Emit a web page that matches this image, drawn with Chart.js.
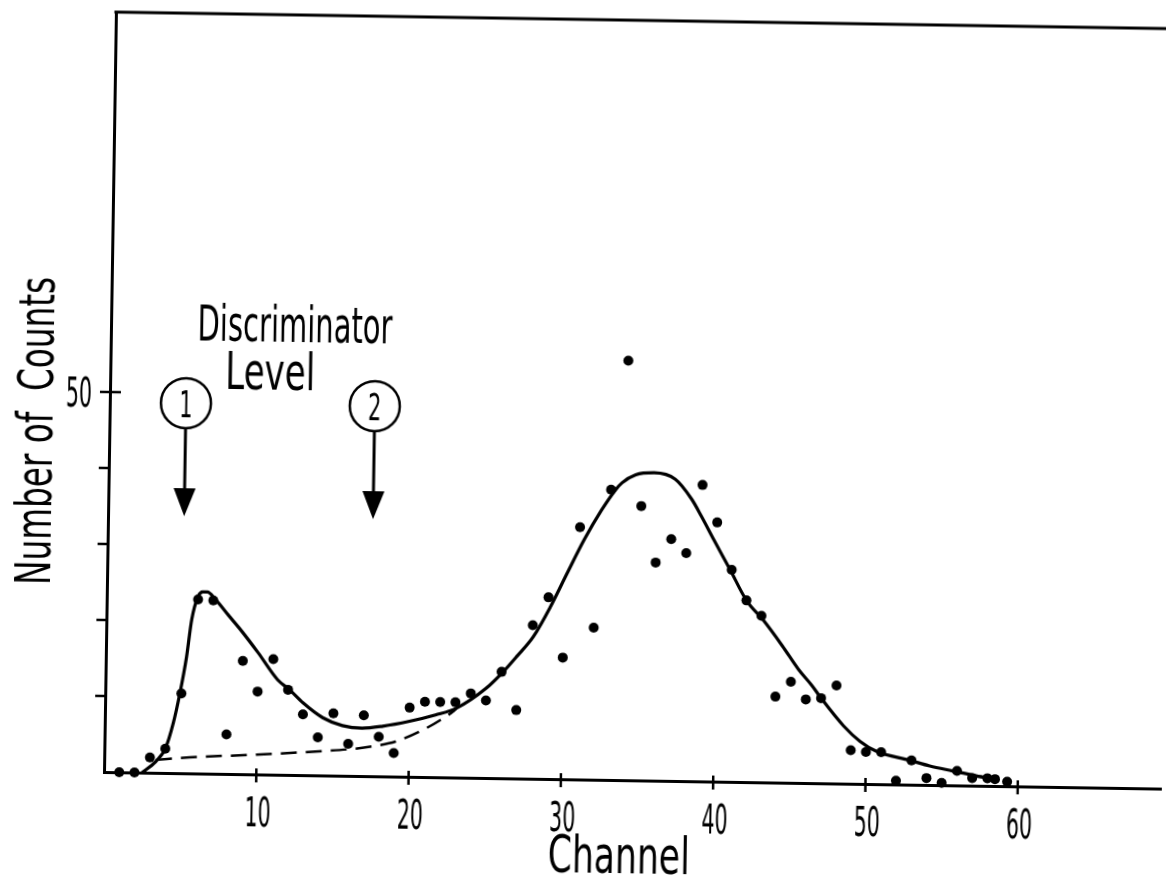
<!DOCTYPE html>
<html>
<head>
<meta charset="utf-8">
<title>Pulse height spectrum</title>
<script src="https://cdn.jsdelivr.net/npm/chart.js@4.4.1/dist/chart.umd.min.js"></script>
<style>
  html, body { margin: 0; padding: 0; background: #fff; overflow: hidden; }
  /* the plotted sheet sits slightly askew */
  #sheet { width: 1166px; height: 882px; transform: rotate(0.9deg); transform-origin: 104px 772px; }
</style>
</head>
<body>
<div id="sheet"><canvas id="spectrum" width="1166" height="882"></canvas></div>
<script>
// measured counts per channel
const channels = [1, 2, 3, 4, 5, 6, 7, 8, 9, 10, 11, 12, 13, 14, 15, 16, 17, 18, 19, 20,
  21, 22, 23, 24, 25, 26, 27, 28, 29, 30, 31, 32, 33, 34, 35, 36, 37, 38, 39, 40,
  41, 42, 43, 44, 45, 46, 47, 48, 49, 50, 51, 52, 53, 54, 55, 56, 57, 58, 58.5, 59.3];
const counts = [0, 0, 2.0, 3.2, 10.5, 22.9, 22.8, 5.2, 14.9, 10.9, 15.2, 11.2, 8.0, 5.0, 8.2, 4.2, 8.0, 5.2, 3.1, 9.1,
  9.9, 9.9, 9.9, 11.1, 10.2, 14.0, 9.0, 20.2, 23.9, 16.0, 33.2, 20.0, 38.2, 55.2, 36.1, 28.7, 31.8, 30.0, 39.0, 34.1,
  27.9, 23.9, 21.9, 11.3, 13.3, 11.0, 11.2, 12.9, 4.4, 4.2, 4.2, 0.5, 3.2, 0.9, 0.3, 1.9, 1.0, 1.0, 0.9, 0.6];

// smooth curve drawn through the spectrum
const fitChannels = [2.5, 3.4, 4.0, 4.5, 4.9, 5.3, 5.6, 6.0, 6.3, 6.6, 7.15, 8.0, 8.9, 10.0, 11.3, 12.1, 13.0,
  14.3, 15.6, 16.9, 18.25, 20.0, 21.7, 23.05, 25.0, 26.1, 27.0, 28.05, 29.15, 30.2, 31.3, 32.4, 33.3, 33.7,
  34.6, 35.8, 37.2, 38.3, 38.95, 39.8, 40.9, 42.0, 43.1, 44.4, 45.5, 46.4, 47.0, 48.5, 49.6, 50.7, 52.9,
  54.2, 55.7, 57.25, 58.45];
const fitCounts = [0, 1.5, 3.2, 6.6, 10.5, 15.3, 20.2, 23.3, 23.9, 23.9, 22.9, 20.9, 18.8, 16.0, 12.5, 11.2, 9.5,
  7.6, 6.6, 6.3, 6.6, 7.3, 8.2, 9.1, 11.8, 14.0, 16.1, 18.7, 22.7, 27.1, 31.6, 35.5, 38.2, 39.1,
  40.2, 40.5, 39.7, 37.1, 34.9, 31.8, 27.9, 23.9, 21.4, 18.0, 14.9, 12.8, 11.2, 7.6, 5.6, 4.3, 3.2,
  2.5, 1.9, 1.3, 0.9];

// dashed background under the first peak
const bgChannels = [3.4, 5.6, 10.0, 14.3, 16.5, 17.8, 19.1, 20.9, 22.6, 23.05];
const bgCounts = [1.7, 2.1, 2.6, 3.2, 3.6, 4.0, 4.6, 6.2, 8.3, 9.0];

const xTicks = [10, 20, 30, 40, 50, 60];
const xTickLabels = ['10', '20', '30', '40', '50', '60'];
const yTicks = [10, 20, 30, 40, 50];
const yTickLabels = ['', '', '', '', '50'];

// discriminator settings (channel) and their marks
const discLevels = [5.0, 17.4];
const discLabels = ['1', '2'];

const FONT = '"DejaVu Sans", "Liberation Sans", sans-serif';

// narrow lettering: scale a regular face horizontally
function squeezed(ctx, text, x, y, cap, sx, angle) {
  ctx.save();
  ctx.translate(x, y);
  if (angle) ctx.rotate(angle);
  ctx.font = Math.round(cap / 0.73) + 'px ' + FONT;
  if (sx < 0) sx = -sx / ctx.measureText(text).width; // negative = target width
  ctx.scale(sx, 1);
  ctx.textAlign = 'center';
  ctx.textBaseline = 'alphabetic';
  ctx.fillStyle = '#000';
  ctx.fillText(text, 0, 0);
  ctx.restore();
}

function seg(ctx, x1, y1, x2, y2) {
  ctx.beginPath();
  ctx.moveTo(x1, y1);
  ctx.lineTo(x2, y2);
  ctx.stroke();
}

const sheetPlugin = {
  id: 'sheet',
  afterDraw(chart) {
    const { ctx, chartArea: a, scales: { x, y } } = chart;
    ctx.save();
    ctx.strokeStyle = '#000';
    ctx.fillStyle = '#000';

    // top edge of the frame
    ctx.lineWidth = 3;
    seg(ctx, a.left - 1.5, a.top, a.right, a.top);

    // channel ticks cross the axis
    ctx.lineWidth = 2.5;
    xTicks.forEach((v, i) => {
      const px = x.getPixelForValue(v);
      seg(ctx, px, a.bottom - 6, px, a.bottom + 8);
      squeezed(ctx, xTickLabels[i], px + 2, a.bottom + 52, 30, 0.5);
    });

    // count ticks, the labelled one crosses the axis
    yTicks.forEach((v, i) => {
      const py = y.getPixelForValue(v);
      seg(ctx, a.left - 10, py, yTickLabels[i] ? a.left + 11 : a.left, py);
      if (yTickLabels[i]) squeezed(ctx, yTickLabels[i], a.left - 31, py + 15, 30, 0.5);
    });

    // axis titles
    squeezed(ctx, 'Channel', 620, a.bottom + 93, 38, -142);
    squeezed(ctx, 'Number of  Counts', 47, 432, 36, -308, -Math.PI / 2);

    // discriminator markers
    squeezed(ctx, 'Discriminator', 288, 339, 36, -195);
    squeezed(ctx, 'Level', 264, 386.5, 37, -90);
    discLevels.forEach((lvl, i) => {
      const cx = x.getPixelForValue(lvl);
      const cy = y.getPixelForValue(48.7);
      const tip = y.getPixelForValue(33.8);
      ctx.lineWidth = 2.5;
      ctx.beginPath();
      ctx.arc(cx, cy, 25, 0, Math.PI * 2);
      ctx.stroke();
      squeezed(ctx, discLabels[i], cx, cy + 14, 28, 0.55);
      ctx.lineWidth = 3;
      seg(ctx, cx, cy + 25, cx, tip - 20);
      ctx.beginPath();
      ctx.moveTo(cx - 11, tip - 28);
      ctx.lineTo(cx + 11, tip - 28);
      ctx.lineTo(cx, tip);
      ctx.closePath();
      ctx.fill();
    });
    ctx.restore();
  }
};

const toPoints = (xs, ys) => xs.map((v, i) => ({ x: v, y: ys[i] }));

new Chart(document.getElementById('spectrum'), {
  type: 'scatter',
  data: {
    datasets: [
      {
        label: 'Counts',
        data: toPoints(channels, counts),
        pointRadius: 5,
        pointBackgroundColor: '#000',
        pointBorderColor: '#000',
        pointBorderWidth: 0,
        showLine: false,
        clip: false
      },
      {
        label: 'Spectrum',
        data: toPoints(fitChannels, fitCounts),
        showLine: true,
        borderColor: '#000',
        borderWidth: 3.2,
        pointRadius: 0,
        cubicInterpolationMode: 'monotone',
        clip: false
      },
      {
        label: 'Background',
        data: toPoints(bgChannels, bgCounts),
        showLine: true,
        borderColor: '#000',
        borderWidth: 2.5,
        borderDash: [16, 9],
        pointRadius: 0,
        cubicInterpolationMode: 'monotone',
        clip: false
      }
    ]
  },
  options: {
    responsive: false,
    animation: false,
    devicePixelRatio: 1,
    events: [],
    layout: { padding: { top: 12, left: 0, right: 0, bottom: 0 } },
    plugins: {
      legend: { display: false },
      tooltip: { enabled: false }
    },
    scales: {
      x: {
        type: 'linear',
        min: 0,
        max: 69.4,
        grid: { display: false },
        ticks: { display: false },
        border: { display: true, color: '#000', width: 3 },
        afterFit: s => { s.height = 110; }
      },
      y: {
        type: 'linear',
        min: 0,
        max: 100,
        grid: { display: false },
        ticks: { display: false },
        border: { display: true, color: '#000', width: 3 },
        afterFit: s => { s.width = 104; }
      }
    }
  },
  plugins: [sheetPlugin]
});
</script>
</body>
</html>
